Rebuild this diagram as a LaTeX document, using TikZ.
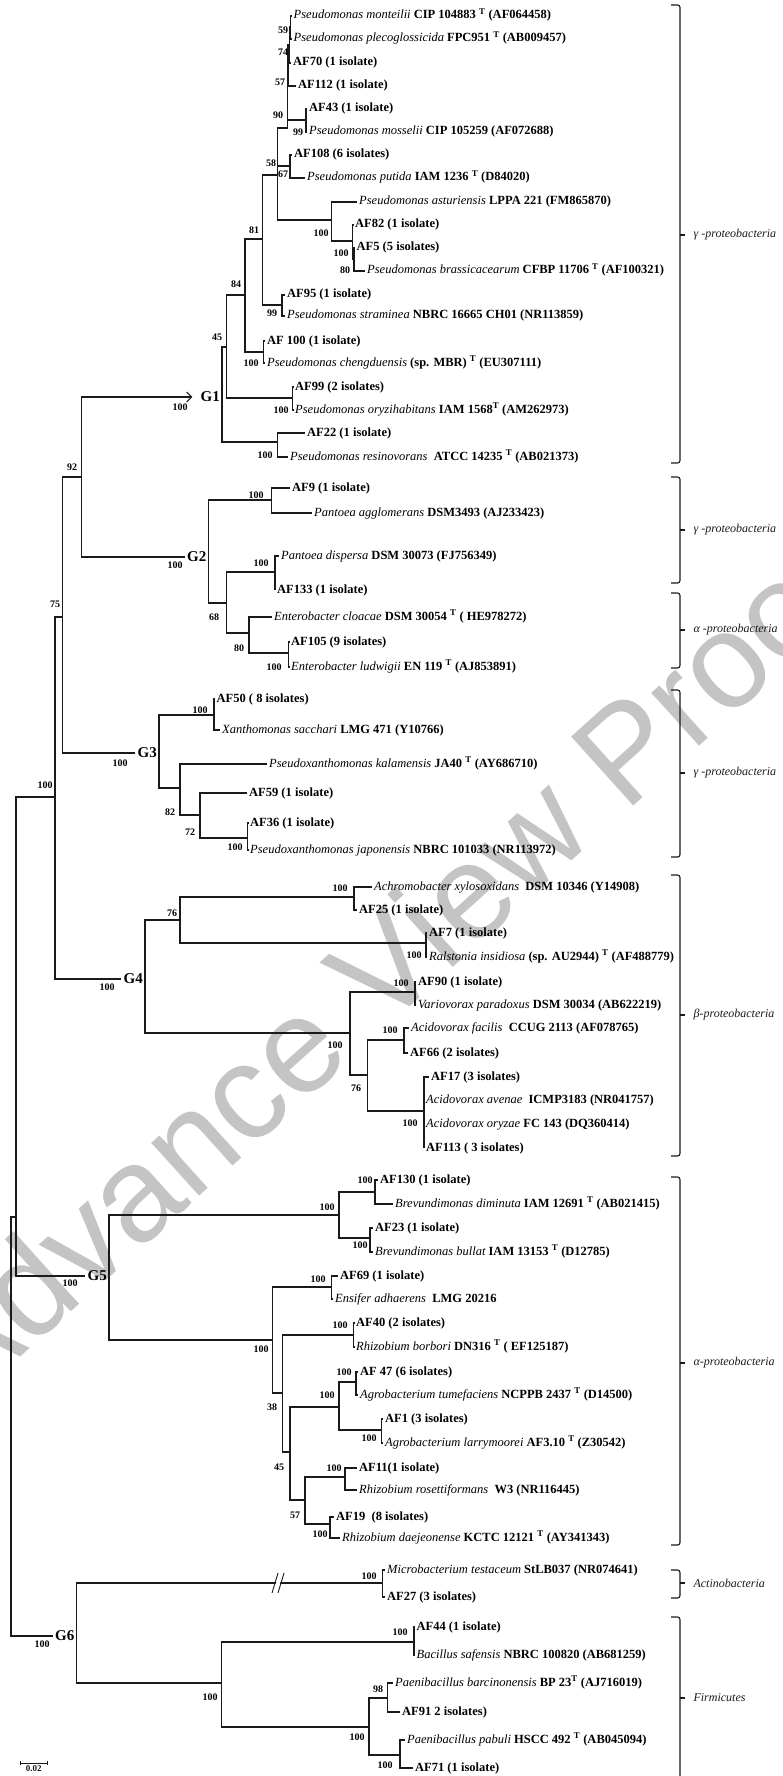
\documentclass[tikz,border=0pt]{standalone}
\usepackage{fontspec}
\setmainfont{Liberation Serif}
\newfontfamily\wmfont{Liberation Sans}
\usepackage{tikz}
\usetikzlibrary{arrows.meta}
\definecolor{cLine}{HTML}{1A1A1A}
\definecolor{cMark}{HTML}{C4C4C4}
\tikzset{
  br/.style={line width=1.1pt, cLine},
  arr/.style={br, -{Straight Barb[length=5pt,width=10pt]}},
  leaf/.style={anchor=west, inner sep=2pt, text height=9pt, text depth=3pt,
               font=\fontsize{12.5}{14}\selectfont\bfseries},
  boot/.style={inner sep=0pt, font=\fontsize{10}{12}\selectfont\bfseries},
  grp/.style={anchor=east, inner sep=2pt, font=\fontsize{15}{17}\selectfont\bfseries},
  clade/.style={line width=1.1pt, cLine, rounded corners=2.5pt},
  cladelbl/.style={anchor=west, inner sep=1pt, xshift=7pt, font=\fontsize{12}{13}\selectfont\itshape},
  wmark/.style={inner sep=0pt, text=cMark, font=\wmfont\fontsize{135}{138}\selectfont},
  scl/.style={inner sep=1pt, font=\fontsize{9}{10}\selectfont\bfseries}
}
\newcommand{\tax}[1]{{\mdseries\itshape #1}}
\newcommand{\typ}{\textsuperscript{T}}
\newcommand{\cladebar}[5]{% name, top, bottom, middle, text
  \draw[clade] (671,#2) -- (680,#2) -- (680,#3) -- (671,#3);
  \draw[clade] (680,#4) -- (685,#4) node[cladelbl] (#1) {#5};}

\begin{document}
\begin{tikzpicture}[x=1pt, y=-1pt]
\useasboundingbox (0,0) rectangle (783,1776);
% watermark
\node[wmark, rotate=42] (wm) at (382,967) {Advance View Proof};

% ---- G1 leaves
\node[leaf] (l1) at (291.5,16) {\tax{Pseudomonas monteilii} CIP 104883 \typ{} (AF064458)};
\node[leaf] (l2) at (291.5,39) {\tax{Pseudomonas plecoglossicida} FPC951 \typ{} (AB009457)};
\node[leaf] (l3) at (291,63) {AF70 (1 isolate)};
\node[leaf] (l4) at (296,86) {AF112 (1 isolate)};
\node[leaf] (l5) at (307,109) {AF43 (1 isolate)};
\node[leaf] (l6) at (307,132) {\tax{Pseudomonas mosselii} CIP 105259 (AF072688)};
\node[leaf] (l7) at (292,155) {AF108 (6 isolates)};
\node[leaf] (l8) at (305,178) {\tax{Pseudomonas putida} IAM 1236 \typ{} (D84020)};
\node[leaf] (l9) at (357,202) {\tax{Pseudomonas asturiensis} LPPA 221 (FM865870)};
\node[leaf] (l10) at (353,225) {AF82 (1 isolate)};
\node[leaf] (l11) at (354.5,248) {AF5 (5 isolates)};
\node[leaf] (l12) at (365,271) {\tax{Pseudomonas brassicacearum} CFBP 11706 \typ{} (AF100321)};
\node[leaf] (l13) at (285,295) {AF95 (1 isolate)};
\node[leaf] (l14) at (285,316) {\tax{Pseudomonas straminea} NBRC 16665 CH01 (NR113859)};
\node[leaf] (l15) at (265,341) {AF 100 (1 isolate)};
\node[leaf] (l16) at (265,363) {\tax{Pseudomonas chengduensis} (sp. MBR) \typ{} (EU307111)};
\node[leaf] (l17) at (293,387) {AF99 (2 isolates)};
\node[leaf] (l18) at (293,410) {\tax{Pseudomonas oryzihabitans} IAM 1568\typ{} (AM262973)};
\node[leaf] (l19) at (305,433) {AF22 (1 isolate)};
\node[leaf] (l20) at (288,457) {\tax{Pseudomonas resinovorans}\ \ ATCC 14235 \typ{} (AB021373)};
% ---- G2 leaves
\node[leaf] (l21) at (290,488) {AF9 (1 isolate)};
\node[leaf] (l22) at (312,513) {\tax{Pantoea agglomerans} DSM3493 (AJ233423)};
\node[leaf] (l23) at (279,556) {\tax{Pantoea dispersa} DSM 30073 (FJ756349)};
\node[leaf] (l24) at (275,590) {AF133 (1 isolate)};
\node[leaf] (l25) at (272,617) {\tax{Enterobacter cloacae} DSM 30054 \typ{} ( HE978272)};
\node[leaf] (l26) at (289,642) {AF105 (9 isolates)};
\node[leaf] (l27) at (289,667) {\tax{Enterobacter ludwigii} EN 119 \typ{} (AJ853891)};
% ---- G3 leaves
\node[leaf] (l28) at (214.5,699) {AF50 ( 8 isolates)};
\node[leaf] (l29) at (220,730) {\tax{Xanthomonas sacchari} LMG 471 (Y10766)};
\node[leaf] (l30) at (267,764) {\tax{Pseudoxanthomonas kalamensis} JA40 \typ{} (AY686710)};
\node[leaf] (l31) at (247,793) {AF59 (1 isolate)};
\node[leaf] (l32) at (248,823) {AF36 (1 isolate)};
\node[leaf] (l33) at (248,850) {\tax{Pseudoxanthomonas japonensis} NBRC 101033 (NR113972)};
% ---- G4 leaves
\node[leaf] (l34) at (372,887) {\tax{Achromobacter xylosoxidans}\ \ DSM 10346 (Y14908)};
\node[leaf] (l35) at (357,910) {AF25 (1 isolate)};
\node[leaf] (l36) at (427,933) {AF7 (1 isolate)};
\node[leaf] (l37) at (427,957) {\tax{Ralstonia insidiosa} (sp. AU2944) \typ{} (AF488779)};
\node[leaf] (l38) at (416,982) {AF90 (1 isolate)};
\node[leaf] (l39) at (416,1005) {\tax{Variovorax paradoxus} DSM 30034 (AB622219)};
\node[leaf] (l40) at (409,1028) {\tax{Acidovorax facilis}\ \ CCUG 2113 (AF078765)};
\node[leaf] (l41) at (408,1053) {AF66 (2 isolates)};
\node[leaf] (l42) at (429,1077) {AF17 (3 isolates)};
\node[leaf] (l43) at (424,1100) {\tax{Acidovorax avenae}\ \ ICMP3183 (NR041757)};
\node[leaf] (l44) at (424,1124) {\tax{Acidovorax oryzae} FC 143 (DQ360414)};
\node[leaf] (l45) at (424,1148) {AF113 ( 3 isolates)};
% ---- G5 leaves
\node[leaf] (l46) at (378,1180) {AF130 (1 isolate)};
\node[leaf] (l47) at (393,1204) {\tax{Brevundimonas diminuta} IAM 12691 \typ{} (AB021415)};
\node[leaf] (l48) at (373,1228) {AF23 (1 isolate)};
\node[leaf] (l49) at (373,1252) {\tax{Brevundimonas bullat} IAM 13153 \typ{} (D12785)};
\node[leaf] (l50) at (338,1276) {AF69 (1 isolate)};
\node[leaf] (l51) at (333,1299) {\tax{Ensifer adhaerens}\ \ LMG 20216};
\node[leaf] (l52) at (354,1323) {AF40 (2 isolates)};
\node[leaf] (l53) at (354,1347) {\tax{Rhizobium borbori} DN316 \typ{} ( EF125187)};
\node[leaf] (l54) at (358,1372) {AF 47 (6 isolates)};
\node[leaf] (l55) at (358,1395) {\tax{Agrobacterium tumefaciens} NCPPB 2437 \typ{} (D14500)};
\node[leaf] (l56) at (383,1419) {AF1 (3 isolates)};
\node[leaf] (l57) at (383,1443) {\tax{Agrobacterium larrymoorei} AF3.10 \typ{} (Z30542)};
\node[leaf] (l58) at (357,1468) {AF11(1 isolate)};
\node[leaf] (l59) at (357,1490) {\tax{Rhizobium rosettiformans}\ \ W3 (NR116445)};
\node[leaf] (l60) at (334,1517) {AF19\ \ (8 isolates)};
\node[leaf] (l61) at (340,1538) {\tax{Rhizobium daejeonense} KCTC 12121 \typ{} (AY341343)};
% ---- G6 leaves
\node[leaf] (l62) at (385,1570) {\tax{Microbacterium testaceum} StLB037 (NR074641)};
\node[leaf] (l63) at (385,1597) {AF27 (3 isolates)};
\node[leaf] (l64) at (414.5,1627) {AF44 (1 isolate)};
\node[leaf] (l65) at (414.5,1655) {\tax{Bacillus safensis} NBRC 100820 (AB681259)};
\node[leaf] (l66) at (393,1683) {\tax{Paenibacillus barcinonensis} BP 23\typ{} (AJ716019)};
\node[leaf] (l67) at (400,1712) {AF91 2 isolates)};
\node[leaf] (l68) at (405,1740) {\tax{Paenibacillus pabuli} HSCC 492 \typ{} (AB045094)};
\node[leaf] (l69) at (413,1768) {AF71 (1 isolate)};

% ---- inner nodes
\coordinate (c59) at (290.5,27);   \coordinate (c74) at (289.5,45);
\coordinate (c57) at (288,65);     \coordinate (c99) at (306,120);
\coordinate (c90) at (287.5,128);  \coordinate (c67) at (290,166);
\coordinate (x3) at (354,259);     \coordinate (x2) at (352.5,241);
\coordinate (x1) at (331.5,220);   \coordinate (c58) at (277.5,175);
\coordinate (c99b) at (282,305);   \coordinate (c81) at (262.5,239);
\coordinate (c100a) at (263.5,352); \coordinate (c84) at (245,295);
\coordinate (c100b) at (292.5,398); \coordinate (c45) at (226.5,347);
\coordinate (c100c) at (277.5,442); \coordinate (g1) at (222,397);
\coordinate (cAF9) at (271.5,500); \coordinate (cDisp) at (275,572);
\coordinate (cAF105) at (288.5,653); \coordinate (c80) at (249,633);
\coordinate (c68) at (226.5,603);  \coordinate (g2) at (208.5,557);
\coordinate (cAF50) at (214,715);  \coordinate (cAF36) at (247.5,838);
\coordinate (c72) at (200,815);    \coordinate (c82) at (180,788);
\coordinate (g3) at (159,753);
\coordinate (cAchro) at (354,897); \coordinate (cAF7) at (426,943);
\coordinate (c76a) at (180,920);   \coordinate (cAF90) at (415,992);
\coordinate (cFac) at (404,1040);  \coordinate (cAF17) at (424,1111);
\coordinate (c76b) at (367.5,1075); \coordinate (cB100) at (350,1033);
\coordinate (g4) at (145,979);
\coordinate (cAF130) at (375,1192); \coordinate (cAF23) at (370,1238);
\coordinate (cBrev) at (339,1215); \coordinate (cAF69) at (331.5,1287);
\coordinate (cAF40) at (353.5,1335); \coordinate (cAF47) at (356,1382);
\coordinate (cAF1) at (381.5,1430); \coordinate (c100d) at (339,1407);
\coordinate (cAF11) at (345,1477); \coordinate (cAF19) at (330,1524);
\coordinate (c57b) at (305,1500);  \coordinate (c45b) at (290,1452);
\coordinate (c38) at (282.5,1393); \coordinate (cR100) at (272.5,1340);
\coordinate (g5) at (109,1276);
\coordinate (cMicro) at (382.5,1583); \coordinate (cAF44) at (414,1642);
\coordinate (c98) at (387.5,1698); \coordinate (cPab) at (400,1755);
\coordinate (cP100) at (369,1727); \coordinate (cF100) at (221.5,1683);
\coordinate (g6) at (76.5,1636);
\coordinate (c92) at (81.5,477);   \coordinate (c75) at (62.5,617);
\coordinate (c100n) at (55,797);   \coordinate (c16) at (16,1217);
\coordinate (root) at (11,1426);

% ---- group labels
\node[grp] (G1) at (g1) {G1}; \node[grp] (G2) at (g2) {G2};
\node[grp] (G3) at (g3) {G3}; \node[grp] (G4) at (g4) {G4};
\node[grp] (G5) at (g5) {G5}; \node[grp] (G6) at (g6) {G6};

% ---- branches G1
\draw[br] (c59) |- (l1.west) (c59) |- (l2.west);
\draw[br] (c74) |- (c59) (c74) |- (l3.west);
\draw[br] (c57) |- (c74) (c57) |- (l4.west);
\draw[br] (c99) |- (l5.west) (c99) |- (l6.west);
\draw[br] (c90) |- (c57) (c90) |- (c99);
\draw[br] (c67) |- (l7.west) (c67) |- (l8.west);
\draw[br] (x3) |- (l11.west) (x3) |- (l12.west);
\draw[br] (x2) |- (l10.west) (x2) |- (x3);
\draw[br] (x1) |- (l9.west) (x1) |- (x2);
\draw[br] (c58) |- (c90) (c58) |- (c67) (c58) |- (x1);
\draw[br] (c99b) |- (l13.west) (c99b) |- (l14.west);
\draw[br] (c81) |- (c58) (c81) |- (c99b);
\draw[br] (c100a) |- (l15.west) (c100a) |- (l16.west);
\draw[br] (c84) |- (c81) (c84) |- (c100a);
\draw[br] (c100b) |- (l17.west) (c100b) |- (l18.west);
\draw[br] (c45) |- (c84) (c45) |- (c100b);
\draw[br] (c100c) |- (l19.west) (c100c) |- (l20.west);
\draw[br] (g1) |- (c45) (g1) |- (c100c);
% ---- branches G2
\draw[br] (cAF9) |- (l21.west) (cAF9) |- (l22.west);
\draw[br] (cDisp) |- (l23.west) (cDisp) |- (l24.west);
\draw[br] (cAF105) |- (l26.west) (cAF105) |- (l27.west);
\draw[br] (c80) |- (l25.west) (c80) |- (cAF105);
\draw[br] (c68) |- (cDisp) (c68) |- (c80);
\draw[br] (g2) |- (cAF9) (g2) |- (c68);
% ---- branches G3
\draw[br] (cAF50) |- (l28.west) (cAF50) |- (l29.west);
\draw[br] (cAF36) |- (l32.west) (cAF36) |- (l33.west);
\draw[br] (c72) |- (l31.west) (c72) |- (cAF36);
\draw[br] (c82) |- (l30.west) (c82) |- (c72);
\draw[br] (g3) |- (cAF50) (g3) |- (c82);
% ---- branches G4
\draw[br] (cAchro) |- (l34.west) (cAchro) |- (l35.west);
\draw[br] (cAF7) |- (l36.west) (cAF7) |- (l37.west);
\draw[br] (c76a) |- (cAchro) (c76a) |- (cAF7);
\draw[br] (cAF90) |- (l38.west) (cAF90) |- (l39.west);
\draw[br] (cFac) |- (l40.west) (cFac) |- (l41.west);
\draw[br] (cAF17) |- (l42.west) (cAF17) |- (l43.west) (cAF17) |- (l44.west) (cAF17) |- (l45.west);
\draw[br] (c76b) |- (cFac) (c76b) |- (cAF17);
\draw[br] (cB100) |- (cAF90) (cB100) |- (c76b);
\draw[br] (g4) |- (c76a) (g4) |- (cB100);
% ---- branches G5
\draw[br] (cAF130) |- (l46.west) (cAF130) |- (l47.west);
\draw[br] (cAF23) |- (l48.west) (cAF23) |- (l49.west);
\draw[br] (cBrev) |- (cAF130) (cBrev) |- (cAF23);
\draw[br] (cAF69) |- (l50.west) (cAF69) |- (l51.west);
\draw[br] (cAF40) |- (l52.west) (cAF40) |- (l53.west);
\draw[br] (cAF47) |- (l54.west) (cAF47) |- (l55.west);
\draw[br] (cAF1) |- (l56.west) (cAF1) |- (l57.west);
\draw[br] (c100d) |- (cAF47) (c100d) |- (cAF1);
\draw[br] (cAF11) |- (l58.west) (cAF11) |- (l59.west);
\draw[br] (cAF19) |- (l60.west) (cAF19) |- (l61.west);
\draw[br] (c57b) |- (cAF11) (c57b) |- (cAF19);
\draw[br] (c45b) |- (c100d) (c45b) |- (c57b);
\draw[br] (c38) |- (cAF40) (c38) |- (c45b);
\draw[br] (cR100) |- (cAF69) (cR100) |- (c38);
\draw[br] (g5) |- (cBrev) (g5) |- (cR100);
% ---- branches G6
\draw[br] (cMicro) |- (l62.west) (cMicro) |- (l63.west);
\draw[br] (cAF44) |- (l64.west) (cAF44) |- (l65.west);
\draw[br] (c98) |- (l66.west) (c98) |- (l67.west);
\draw[br] (cPab) |- (l68.west) (cPab) |- (l69.west);
\draw[br] (cP100) |- (c98) (cP100) |- (cPab);
\draw[br] (cF100) |- (cAF44) (cF100) |- (cP100);
\draw[br] (g6) |- (cMicro) (g6) |- (cF100);
% broken branch
\begin{scope}[shift={(279,1583)}]
  \fill[white] (-6,9) -- (0,-9) -- (4,-9) -- (-2,9) -- cycle;
  \draw[cLine, line width=0.9pt] (-7,10) -- (-1,-10) (-1,10) -- (5,-10);
\end{scope}
% ---- backbone
\draw[arr, shorten >=6pt] (c92) |- (G1.west);
\draw[br] (c92) |- (G2.west);
\draw[br] (c75) |- (c92) (c75) |- (G3.west);
\draw[br] (c100n) |- (c75) (c100n) |- (G4.west);
\draw[br] (c16) |- (c100n) (c16) |- (G5.west);
\draw[br] (root) |- (c16) (root) |- (G6.west);

% ---- bootstrap values
\node[boot] (bs1) at (283,30) {59};   \node[boot] (bs2) at (283,52) {74};
\node[boot] (bs3) at (280,82) {57};   \node[boot] (bs4) at (278,115) {90};
\node[boot] (bs5) at (298,132) {99};  \node[boot] (bs6) at (271,163) {58};
\node[boot] (bs7) at (283,174) {67};  \node[boot] (bs8) at (321,233) {100};
\node[boot] (bs9) at (341,253) {100}; \node[boot] (bs10) at (345,270) {80};
\node[boot] (bs11) at (254,230) {81}; \node[boot] (bs12) at (236,284) {84};
\node[boot] (bs13) at (272,313) {99}; \node[boot] (bs14) at (217,337) {45};
\node[boot] (bs15) at (251,363) {100}; \node[boot] (bs16) at (281,410) {100};
\node[boot] (bs17) at (265,455) {100}; \node[boot] (bs18) at (180,407) {100};
\node[boot] (bs19) at (72,467) {92};
\node[boot] (bs20) at (175,565) {100}; \node[boot] (bs21) at (256,495) {100};
\node[boot] (bs22) at (261,563) {100}; \node[boot] (bs23) at (214,617) {68};
\node[boot] (bs24) at (239,648) {80};  \node[boot] (bs25) at (274,667) {100};
\node[boot] (bs26) at (55,604) {75};
\node[boot] (bs27) at (120,763) {100}; \node[boot] (bs28) at (200,710) {100};
\node[boot] (bs29) at (170,812) {82};  \node[boot] (bs30) at (190,832) {72};
\node[boot] (bs31) at (235,847) {100}; \node[boot] (bs32) at (45,785) {100};
\node[boot] (bs33) at (107,987) {100}; \node[boot] (bs34) at (172,913) {76};
\node[boot] (bs35) at (340,888) {100}; \node[boot] (bs36) at (414,955) {100};
\node[boot] (bs37) at (335,1045) {100}; \node[boot] (bs38) at (401,983) {100};
\node[boot] (bs39) at (356,1088) {76}; \node[boot] (bs40) at (390,1030) {100};
\node[boot] (bs41) at (410,1123) {100};
\node[boot] (bs42) at (70,1283) {100}; \node[boot] (bs43) at (327,1207) {100};
\node[boot] (bs44) at (365,1180) {100}; \node[boot] (bs45) at (360,1245) {100};
\node[boot] (bs46) at (261,1349) {100}; \node[boot] (bs47) at (318,1279) {100};
\node[boot] (bs48) at (272,1407) {38};  \node[boot] (bs49) at (340,1325) {100};
\node[boot] (bs50) at (279,1467) {45};  \node[boot] (bs51) at (327,1395) {100};
\node[boot] (bs52) at (344,1372) {100}; \node[boot] (bs53) at (369,1438) {100};
\node[boot] (bs54) at (295,1515) {57};  \node[boot] (bs55) at (334,1468) {100};
\node[boot] (bs56) at (320,1534) {100};
\node[boot] (bs57) at (42,1644) {100};  \node[boot] (bs58) at (369,1576) {100};
\node[boot] (bs59) at (210,1697) {100}; \node[boot] (bs60) at (400,1632) {100};
\node[boot] (bs61) at (357,1737) {100}; \node[boot] (bs62) at (378,1689) {98};
\node[boot] (bs63) at (385,1765) {100};

% ---- clade brackets
\cladebar{k1}{5}{463}{235}{γ -proteobacteria}
\cladebar{k2}{477}{583}{530}{γ -proteobacteria}
\cladebar{k3}{593}{668}{630}{α -proteobacteria}
\cladebar{k4}{690}{857}{773}{γ -proteobacteria}
\cladebar{k5}{875}{1156}{1015}{β-proteobacteria}
\cladebar{k6}{1177}{1545}{1363}{α-proteobacteria}
\cladebar{k7}{1570}{1598}{1583}{Actinobacteria}
\cladebar{k8}{1617}{1800}{1698}{Firmicutes}

% ---- scale bar
\coordinate (sb1) at (20,1763); \coordinate (sb2) at (47.5,1763);
\draw[br, line width=0.9pt, {Bar[width=4pt]}-{Bar[width=4pt]}] (sb1) -- (sb2)
  node[scl, midway, below=1pt] (sbl) {0.02};
\end{tikzpicture}
\end{document}
